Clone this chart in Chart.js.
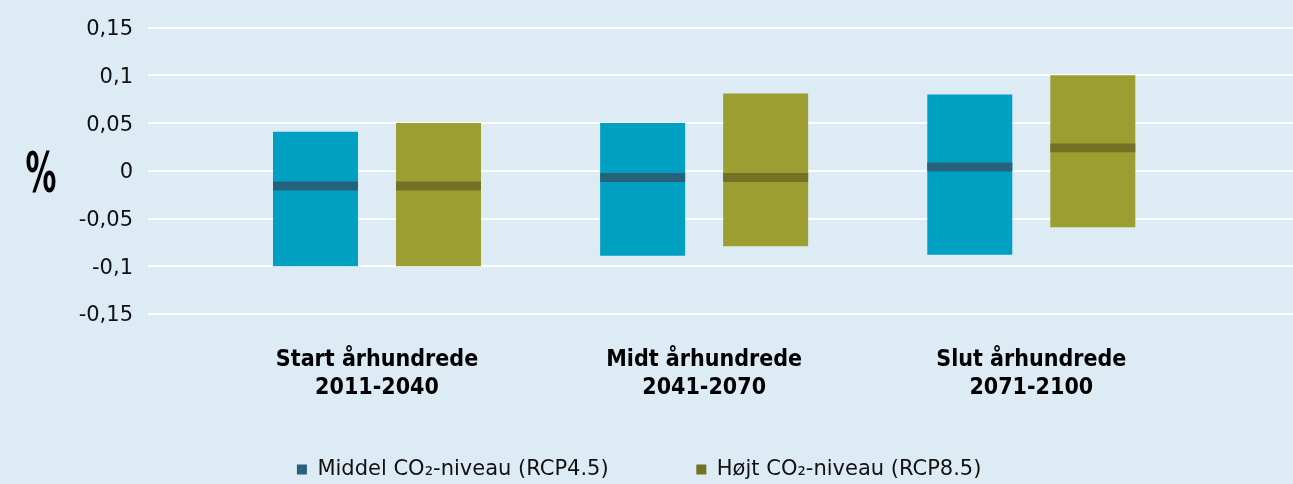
<!DOCTYPE html>
<html lang="da">
<head>
<meta charset="utf-8">
<title>CO2-niveau</title>
<script src="https://cdn.jsdelivr.net/npm/chart.js@4.4.1/dist/chart.umd.min.js"></script>
<style>
  html, body { margin: 0; padding: 0; background: #dcebf4; }
  #wrap { position: relative; width: 1293px; height: 484px; }
</style>
</head>
<body>
<div id="wrap"><canvas id="chart"></canvas></div>
<script>
// ── data ──────────────────────────────────────────────
const categories = [
  ['Start århundrede', '2011-2040'],
  ['Midt århundrede', '2041-2070'],
  ['Slut århundrede', '2071-2100']
];
const seriesNames = ['Middel CO₂-niveau (RCP4.5)', 'Højt CO₂-niveau (RCP8.5)'];

// RCP4.5: range low / high and median
const rcp45Low  = [-0.100, -0.089, -0.088];
const rcp45High = [ 0.041,  0.050,  0.080];
const rcp45Mid  = [-0.016, -0.007,  0.004];

// RCP8.5: range low / high and median
const rcp85Low  = [-0.100, -0.079, -0.059];
const rcp85High = [ 0.050,  0.081,  0.100];
const rcp85Mid  = [-0.016, -0.007,  0.024];

const yTicks = [-0.15, -0.1, -0.05, 0, 0.05, 0.1, 0.15];

// ── styling ───────────────────────────────────────────
const BAND = 0.0094;   // thickness of the median band, in % units
const TICK_FONT = { family: 'DejaVu Sans, Verdana, sans-serif', size: 21 };
const CAT_FONT = { family: '"Liberation Sans Narrow", "DejaVu Sans Condensed", sans-serif', size: 23, weight: 'bold', lineHeight: '28px' };

const rangeData = (lo, hi) => lo.map((v, i) => ({ x: i + 1, y: [v, hi[i]] }));
const bandData = (mid) => mid.map((m, i) => ({ x: i + 1, y: [m - BAND / 2, m + BAND / 2] }));

// upright, narrow "%" to the left of the value axis
const percentLabel = {
  id: 'percentLabel',
  afterDraw(chart) {
    const { ctx, chartArea } = chart;
    ctx.save();
    ctx.translate(41, (chartArea.top + chartArea.bottom) / 2 + 6);
    ctx.scale(0.78, 1.25);
    ctx.font = 'bold 44px "DejaVu Sans Condensed", "DejaVu Sans", sans-serif';
    ctx.fillStyle = '#000';
    ctx.textAlign = 'center';
    ctx.textBaseline = 'middle';
    ctx.fillText('%', 0, 0);
    ctx.restore();
  }
};

const common = { borderWidth: 0, barPercentage: 0.691, categoryPercentage: 0.752 };

new Chart(document.getElementById('chart'), {
  type: 'bar',
  data: {
    datasets: [
      { ...common, label: seriesNames[0], stack: 'rcp45', data: bandData(rcp45Mid), backgroundColor: '#26627c' },
      { ...common, label: seriesNames[1], stack: 'rcp85', data: bandData(rcp85Mid), backgroundColor: '#717224' },
      { ...common, label: seriesNames[0] + ' interval', stack: 'rcp45', data: rangeData(rcp45Low, rcp45High), backgroundColor: '#00a0c3' },
      { ...common, label: seriesNames[1] + ' interval', stack: 'rcp85', data: rangeData(rcp85Low, rcp85High), backgroundColor: '#9d9e31' }
    ]
  },
  options: {
    responsive: true, maintainAspectRatio: false,
    animation: false,
    layout: { padding: { top: 27, left: 0, right: 0, bottom: 5 } },
    plugins: {
      tooltip: { enabled: false },
      legend: {
        position: 'bottom',
        maxHeight: 30,
        labels: {
          color: '#111', font: TICK_FONT, boxWidth: 10, boxHeight: 10, padding: 10,
          filter: item => item.datasetIndex < 2,
          // trailing spaces widen the items to match the original spacing
          generateLabels: chart => Chart.defaults.plugins.legend.labels.generateLabels(chart)
            .map(l => ({ ...l, text: l.text + (l.datasetIndex === 0 ? '\u2003\u2003\u2003\u2002\u2009' : '\u2002\u2009') }))
        }
      }
    },
    scales: {
      x: {
        type: 'linear', min: 0.3, max: 3.8, offset: false,
        grid: { display: false, offset: false }, border: { display: false },
        afterBuildTicks: s => { s.ticks = categories.map((c, i) => ({ value: i + 1 })); },
        afterFit: s => { s.height = 135; },
        ticks: {
          autoSkip: false, maxRotation: 0, minRotation: 0, padding: 24,
          color: '#000', font: CAT_FONT,
          callback: v => categories[v - 1]
        }
      },
      y: {
        min: -0.15, max: 0.15, stacked: false,
        afterFit: s => { s.width = 148; },
        afterBuildTicks: s => { s.ticks = yTicks.map(v => ({ value: v })); },
        grid: { color: '#ffffff', lineWidth: 2, drawTicks: false },
        border: { display: false },
        ticks: {
          padding: 15, labelOffset: 2, color: '#111', font: TICK_FONT,
          callback: v => String(Math.round(v * 100) / 100).replace('.', ',')
        }
      }
    }
  },
  plugins: [percentLabel]
});
</script>
</body>
</html>
